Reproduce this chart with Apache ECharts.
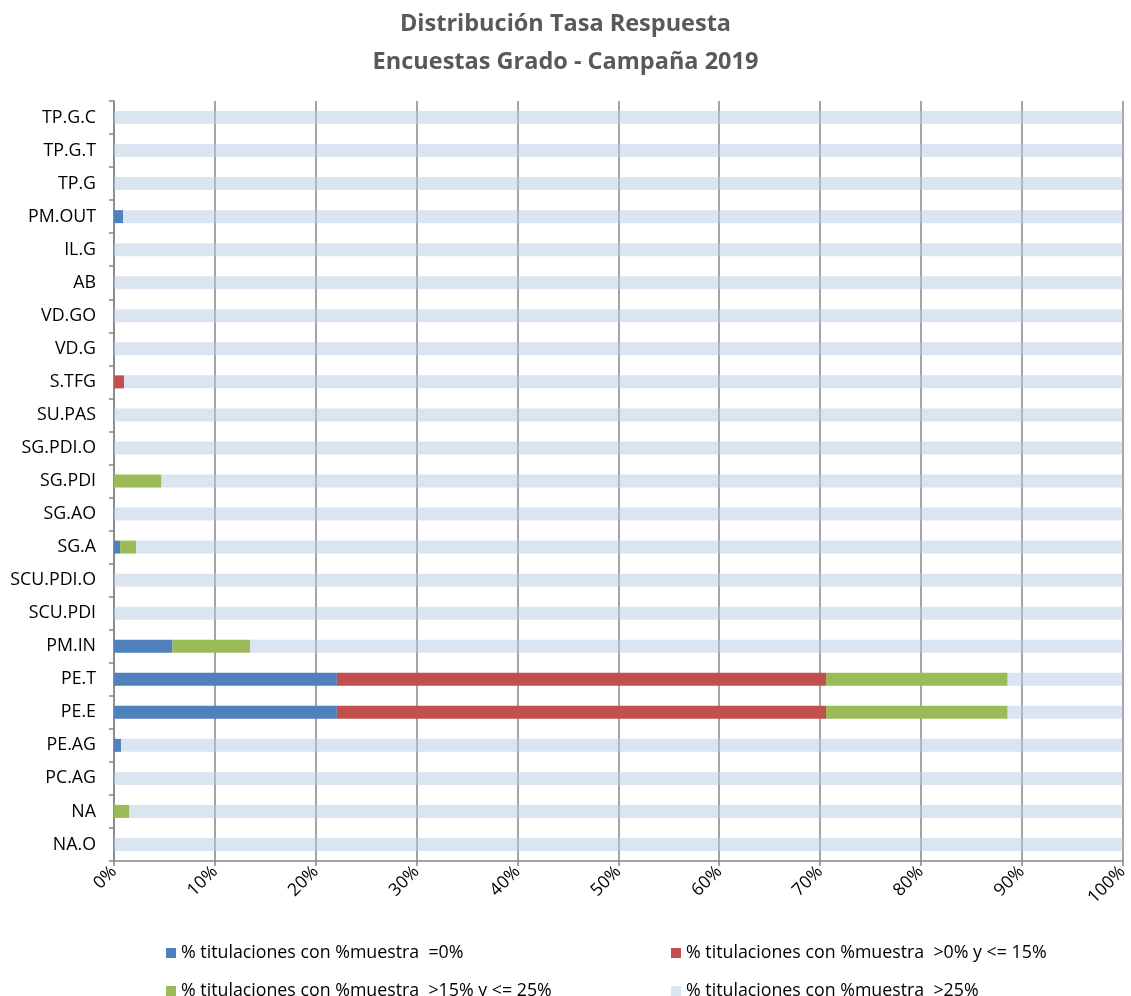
<!DOCTYPE html>
<html>
<head>
<meta charset="utf-8">
<script src="https://cdn.jsdelivr.net/npm/echarts@6/dist/echarts.min.js"></script>
<style>html,body{margin:0;padding:0;background:#fff}#c{width:1131px;height:996px}</style>
</head>
<body>
<div id="c"></div>
<script>
const categories = ["TP.G.C","TP.G.T","TP.G","PM.OUT","IL.G","AB","VD.GO","VD.G","S.TFG","SU.PAS","SG.PDI.O","SG.PDI","SG.AO","SG.A","SCU.PDI.O","SCU.PDI","PM.IN","PE.T","PE.E","PE.AG","PC.AG","NA","NA.O"];
const seriesNames = [
  "% titulaciones con %muestra  =0%",
  "% titulaciones con %muestra  >0% y <= 15%",
  "% titulaciones con %muestra  >15% y <= 25%",
  "% titulaciones con %muestra  >25%"
];
const valsZero  = [0,0,0,0.9,0,0,0,0,0,0,0,0,0,0.6,0,0,5.8,22.1,22.1,0.7,0,0,0];
const valsLow   = [0,0,0,0,0,0,0,0,1.0,0,0,0,0,0,0,0,0,48.5,48.5,0,0,0,0];
const valsMid   = [0,0,0,0,0,0,0,0,0,0,0,4.7,0,1.6,0,0,7.7,18.0,18.0,0,0,1.5,0];
const valsHigh  = [100,100,100,99.1,100,100,100,100,99.0,100,100,95.3,100,97.8,100,100,86.5,11.4,11.4,99.3,100,98.5,100];
const xTicks = [0,10,20,30,40,50,60,70,80,90,100];

const colors = ['#4F81BD','#C0504D','#9BBB59','rgba(184,204,228,0.5)'];
const font = 'Open Sans';
const chart = echarts.init(document.getElementById('c'), null, {renderer:'canvas'});
const allVals = [valsZero, valsLow, valsMid, valsHigh];
const legendPos = [
  {left:161, top:939},
  {left:666, top:939},
  {left:161, top:977},
  {left:666, top:977}
];
chart.setOption({
  animation:false,
  title:{
    text:'Distribución Tasa Respuesta\nEncuestas Grado - Campaña 2019',
    left:'center', top:0,
    textStyle:{fontFamily:font, fontWeight:'bold', fontSize:23.5, color:'#595959', lineHeight:38}
  },
  legend: seriesNames.map((n,i)=>({
    data:[{name:n, itemStyle:{color: i===3 ? '#DCE6F2' : colors[i]}}],
    left:legendPos[i].left, top:legendPos[i].top,
    icon:'rect', itemWidth:10, itemHeight:10, itemGap:6,
    textStyle:{fontFamily:font, fontSize:17.8, color:'#000'}
  })),
  grid:{left:114, right:4, top:101, height:760, containLabel:false},
  xAxis:{
    type:'value', min:0, max:100, interval:10,
    axisLine:{show:true, lineStyle:{color:'#868686', width:1.5}},
    axisTick:{show:true, length:5, lineStyle:{color:'#868686', width:1.5}},
    splitLine:{show:true, lineStyle:{color:'#868686', width:1.5}},
    axisLabel:{rotate:45, fontFamily:font, fontSize:17.5, color:'#000', margin:8,
      formatter:v=>v+'%'}
  },
  yAxis:{
    type:'category', data:categories, inverse:true,
    axisLine:{show:true, lineStyle:{color:'#868686', width:1.5}},
    axisTick:{show:true, length:5, inside:false, lineStyle:{color:'#868686', width:1.5}},
    axisLabel:{fontFamily:font, fontSize:17.8, color:'#000', margin:18}
  },
  series: seriesNames.map((n,i)=>({
    name:n, type:'bar', stack:'t', barWidth:13,
    itemStyle:{color:colors[i]},
    data:allVals[i]
  }))
});
</script>
</body>
</html>
